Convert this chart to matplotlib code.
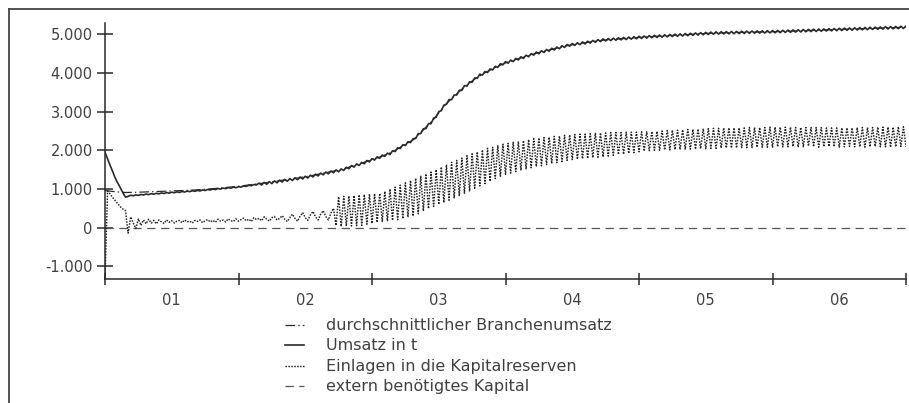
import numpy as np
import matplotlib
matplotlib.use("Agg")
import matplotlib.pyplot as plt
from matplotlib.lines import Line2D

plt.rcParams["font.family"] = ["DejaVu Sans"]
plt.rcParams["lines.scale_dashes"] = False

# weekly simulation output over six years
WEEKS_PER_YEAR = 52

umsatz = [
    1950, 1780, 1610, 1450, 1280, 1150, 1030, 900, 790, 810, 840, 825, 850,
    835, 860, 845, 870, 855, 880, 865, 890, 875, 899, 884, 909, 894,
    918, 903, 928, 912, 937, 922, 946, 931, 956, 941, 965, 950, 976,
    962, 988, 974, 1000, 986, 1012, 998, 1024, 1010, 1036, 1022, 1048, 1034,
    1060, 1049, 1078, 1068, 1097, 1086, 1115, 1105, 1154, 1103, 1172, 1122, 1191,
    1140, 1210, 1160, 1230, 1180, 1250, 1200, 1270, 1220, 1290, 1240, 1310, 1260,
    1330, 1284, 1357, 1311, 1384, 1338, 1411, 1365, 1439, 1392, 1466, 1419, 1493,
    1446, 1520, 1481, 1562, 1524, 1605, 1566, 1648, 1609, 1690, 1654, 1737, 1701,
    1785, 1748, 1832, 1795, 1879, 1843, 1926, 1890, 1989, 1968, 2067, 2046, 2144,
    2123, 2222, 2201, 2300, 2304, 2429, 2433, 2557, 2561, 2686, 2690, 2833, 2857,
    3000, 3023, 3167, 3190, 3310, 3310, 3430, 3430, 3550, 3550, 3670, 3660, 3770,
    3760, 3870, 3860, 3970, 3943, 4037, 4010, 4103, 4077, 4170, 4143, 4237, 4210,
    4291, 4252, 4332, 4293, 4374, 4335, 4416, 4376, 4457, 4418, 4499, 4460, 4540,
    4496, 4572, 4528, 4605, 4561, 4637, 4593, 4669, 4625, 4702, 4658, 4734, 4690,
    4760, 4710, 4780, 4730, 4800, 4750, 4820, 4770, 4840, 4790, 4860, 4810, 4880,
    4825, 4889, 4834, 4899, 4844, 4908, 4853, 4918, 4862, 4927, 4872, 4936, 4881,
    4946, 4890, 4955, 4900, 4964, 4908, 4972, 4915, 4979, 4923, 4987, 4931, 4995,
    4939, 5002, 4946, 5010, 4954, 5018, 4962, 5025, 4969, 5033, 4977, 5041, 4985,
    5048, 4992, 5056, 5000, 5062, 5003, 5065, 5006, 5068, 5009, 5071, 5012, 5074,
    5015, 5077, 5018, 5080, 5022, 5083, 5025, 5086, 5028, 5089, 5031, 5092, 5034,
    5095, 5037, 5098, 5040, 5102, 5045, 5107, 5049, 5112, 5054, 5116, 5058, 5121,
    5063, 5125, 5068, 5130, 5072, 5135, 5077, 5139, 5082, 5144, 5086, 5148, 5091,
    5153, 5095, 5158, 5100, 5162, 5104, 5167, 5109, 5171, 5113, 5175, 5117, 5180,
    5122, 5184, 5126, 5188, 5130, 5193, 5135, 5197, 5139, 5201, 5143, 5206, 5148,
    5210,
]

einlagen = [
    -1320, 950, 870, 780, 700, 620, 540, 480, 440, -140, 280, 120, -20,
    230, 60, 200, 100, 220, 120, 190, 100, 200, 150, 110, 200, 140,
    180, 120, 170, 190, 130, 200, 150, 170, 120, 190, 160, 200, 130,
    180, 210, 150, 190, 140, 220, 170, 200, 150, 230, 180, 160, 230,
    170, 210, 250, 180, 220, 160, 260, 210, 240, 180, 280, 220, 170,
    260, 290, 200, 240, 310, 220, 160, 260, 350, 240, 170, 300, 390,
    260, 190, 330, 420, 280, 200, 350, 440, 290, 200, 380, 500, 60,
    800, 30, 810, 40, 820, 45, 830, 50, 850, 60, 860, 90, 870,
    110, 880, 140, 890, 160, 940, 180, 1000, 190, 1050, 210, 1100, 230,
    1160, 270, 1220, 300, 1280, 360, 1330, 430, 1390, 490, 1440, 550, 1500,
    600, 1570, 650, 1630, 710, 1690, 770, 1740, 830, 1800, 890, 1860, 950,
    1910, 1020, 1960, 1080, 2010, 1140, 2050, 1200, 2080, 1270, 2120, 1330, 2160,
    1380, 2180, 1410, 2210, 1450, 2230, 1480, 2250, 1520, 2280, 1550, 2300, 1580,
    2320, 1600, 2330, 1630, 2340, 1660, 2360, 1680, 2370, 1710, 2390, 1740, 2400,
    1760, 2410, 1770, 2420, 1780, 2420, 1790, 2430, 1810, 2440, 1820, 2450, 1830,
    2450, 1850, 2460, 1870, 2460, 1890, 2460, 1900, 2470, 1920, 2470, 1940, 2470,
    1960, 2480, 1980, 2480, 1990, 2490, 2000, 2490, 2000, 2500, 2010, 2510, 2010,
    2520, 2020, 2520, 2020, 2530, 2030, 2540, 2030, 2540, 2030, 2550, 2040, 2560,
    2040, 2560, 2050, 2570, 2050, 2570, 2060, 2580, 2060, 2580, 2060, 2580, 2060,
    2580, 2070, 2580, 2070, 2590, 2070, 2590, 2080, 2590, 2080, 2590, 2080, 2600,
    2080, 2600, 2090, 2600, 2090, 2600, 2090, 2600, 2100, 2590, 2080, 2590, 2090,
    2590, 2110, 2590, 2090, 2590, 2080, 2590, 2090, 2580, 2100, 2580, 2090, 2580,
    2080, 2580, 2090, 2580, 2100, 2580, 2090, 2590, 2090, 2590, 2080, 2590, 2090,
    2590, 2100, 2600, 2090, 2600, 2090, 2600, 2080, 2600, 2090, 2610, 2100, 2610,
    2090,
]

# industry average, sampled every 4 weeks
BRANCHE_STEP = 4
branche = [
    960, 930, 910, 915, 925, 935, 945, 955, 965, 980, 1000, 1020, 1045,
    1070, 1105, 1140, 1175, 1215, 1255, 1295, 1340, 1395, 1450, 1505, 1585, 1670,
    1755, 1850, 1960, 2115, 2270, 2530, 2800, 3140, 3400, 3640, 3840, 4005, 4140,
    4260, 4345, 4425, 4510, 4575, 4640, 4705, 4750, 4790, 4830, 4860, 4878, 4897,
    4916, 4934, 4949, 4965, 4980, 4995, 5011, 5026, 5035, 5041, 5047, 5053, 5059,
    5065, 5072, 5082, 5091, 5100, 5109, 5118, 5128, 5137, 5145, 5154, 5163, 5171,
    5180,
]

extern_weeks = [0, 312]
extern_kapital = [0, 0]

y_ticks = [-1000, 0, 1000, 2000, 3000, 4000, 5000]
y_tick_labels = ["-1.000", "0", "1.000", "2.000", "3.000", "4.000", "5.000"]
year_ticks = [0, 1, 2, 3, 4, 5, 6]
year_labels = ["01", "02", "03", "04", "05", "06"]

legend_labels = [
    "durchschnittlicher Branchenumsatz",
    "Umsatz in t",
    "Einlagen in die Kapitalreserven",
    "extern benötigtes Kapital",
]

W, H = 909, 403
TXT = "#404040"
INK = "#2a2a2a"

fig = plt.figure(figsize=(W / 100, H / 100), dpi=100)
ax = fig.add_axes([105 / W, 1 - 279 / H, 801 / W, 256 / H])

t_week = np.arange(len(umsatz)) / WEEKS_PER_YEAR
t_einl = np.arange(len(einlagen)) / WEEKS_PER_YEAR
t_br = np.arange(len(branche)) * BRANCHE_STEP / WEEKS_PER_YEAR
t_ext = np.array(extern_weeks) / WEEKS_PER_YEAR

style_br = dict(color=INK, lw=0.9, dashes=(7, 2.2, 1.0, 2.2))
style_ums = dict(color=INK, lw=1.2, linestyle="-")
style_einl = dict(color="#222222", lw=1.05, dashes=(1.1, 1.0))
style_ext = dict(color="#555555", lw=0.9, dashes=(6, 4))

ax.plot(t_ext, extern_kapital, **style_ext)
ax.plot(t_einl, einlagen, **style_einl)
ax.plot(t_br, branche, **style_br)
ax.plot(t_week, umsatz, **style_ums)

ax.set_xlim(0, 6)
ax.set_ylim(-1325, 5290)

for side in ("top", "right"):
    ax.spines[side].set_visible(False)
for side in ("left", "bottom"):
    ax.spines[side].set_color(INK)
    ax.spines[side].set_linewidth(1.1)

ax.set_yticks(y_ticks)
ax.set_yticklabels(y_tick_labels)
ax.tick_params(axis="y", direction="inout", length=11.5, width=1.1, color=INK,
               pad=3, labelsize=10.5, labelcolor=TXT)

ax.set_xticks(year_ticks)
ax.set_xticklabels([""] * len(year_ticks))
ax.tick_params(axis="x", which="major", direction="inout", length=8.5, width=1.1,
               color=INK)
ax.set_xticks([y + 0.5 for y in range(len(year_labels))], minor=True)
ax.set_xticklabels(year_labels, minor=True)
ax.tick_params(axis="x", which="minor", length=0, pad=10, labelsize=10.5,
               labelcolor=TXT)

# legend drawn below the axes as sample strokes plus labels
rows_y = [325, 345, 366, 386]
styles = [style_br, style_ums, style_einl, style_ext]
for yp, st, label in zip(rows_y, styles, legend_labels):
    yf = 1 - yp / H
    fig.add_artist(Line2D([285 / W, 304 / W], [yf, yf], transform=fig.transFigure, **st))
    fig.text(326 / W, yf, label, ha="left", va="center", fontsize=11.5, color=TXT)

# outer frame (top and left edges)
fig.add_artist(Line2D([9 / W, 1.0], [1 - 9 / H, 1 - 9 / H], transform=fig.transFigure,
                      color="#444444", lw=1.3))
fig.add_artist(Line2D([9 / W, 9 / W], [0.0, 1 - 9 / H], transform=fig.transFigure,
                      color="#444444", lw=1.3))

fig.savefig("out.png", dpi=100)
